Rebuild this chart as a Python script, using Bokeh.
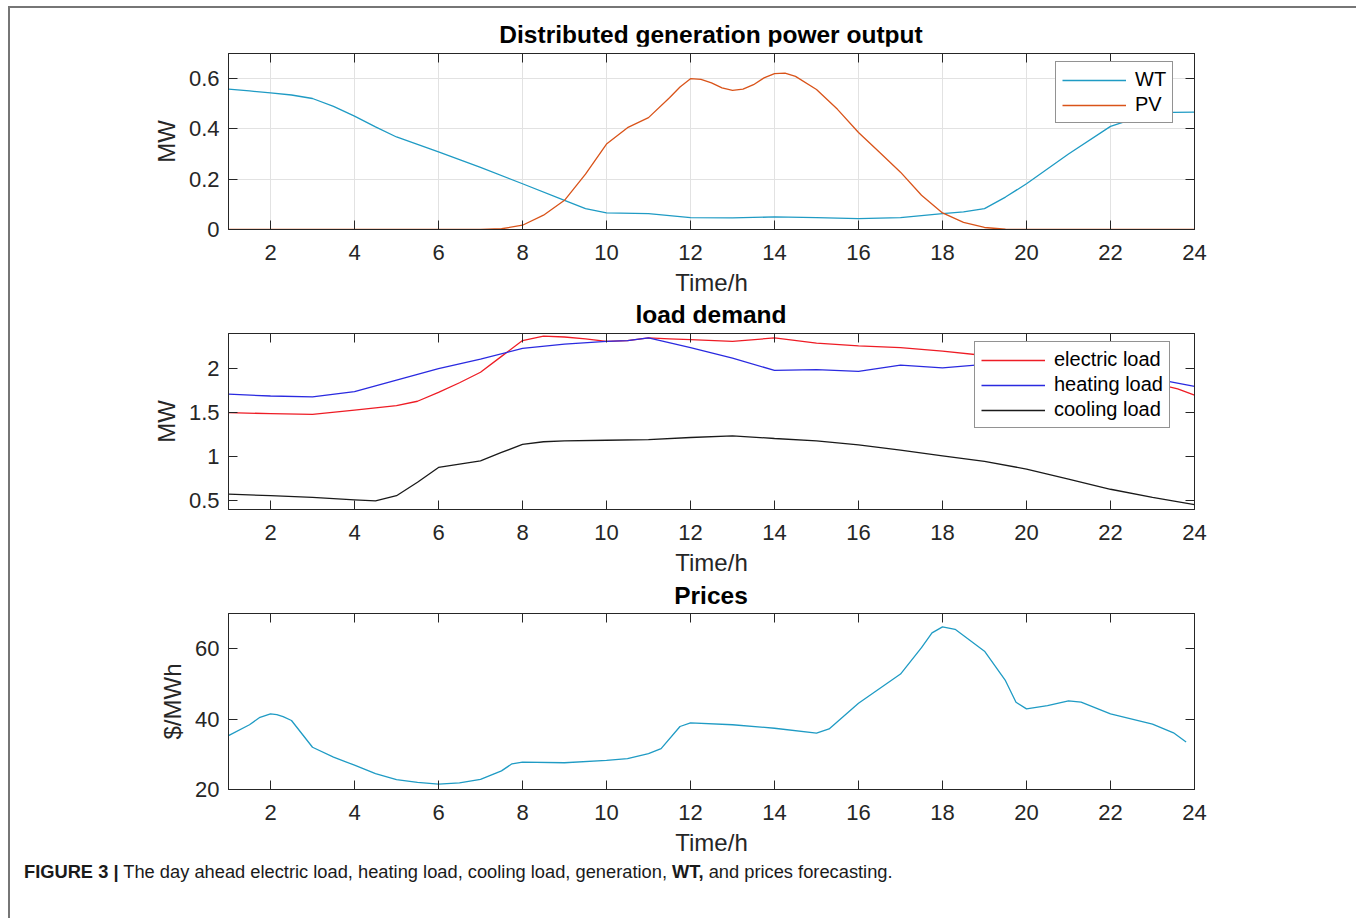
from bokeh.plotting import figure
from bokeh.models import LinearAxis, Legend, LegendItem, Div, FixedTicker, Range1d
from bokeh.layouts import column
from bokeh.embed import file_html
from bokeh.resources import INLINE

FONT = "Liberation Sans"
INK = "#262626"
CYAN = "#1f9bc4"
ORANGE = "#D95319"
FRAME_W, FRAME_H = 966, 176
PAGE_W = 1342

# ---- shared hour axis ----
x_ticks = [2, 4, 6, 8, 10, 12, 14, 16, 18, 20, 22, 24]
x_tick_labels = ["2", "4", "6", "8", "10", "12", "14", "16", "18", "20", "22", "24"]

# ---- distributed generation (MW) ----
wt_hours = [1, 1.5, 2, 2.5, 3, 3.5, 4, 4.5, 5, 5.5, 6, 7, 8, 9, 9.5, 10, 11, 12, 13, 14,
            15, 16, 17, 18, 18.5, 19, 19.5, 20, 21, 22, 23, 24]
wt_mw = [0.558, 0.551, 0.543, 0.535, 0.521, 0.490, 0.451, 0.408, 0.368, 0.339, 0.309,
         0.247, 0.182, 0.116, 0.083, 0.066, 0.063, 0.047, 0.046, 0.050, 0.047, 0.043,
         0.047, 0.063, 0.070, 0.083, 0.129, 0.182, 0.300, 0.410, 0.465, 0.467]

pv_hours = [1, 2, 3, 4, 5, 6, 7, 7.5, 8, 8.5, 9, 9.5, 10, 10.5, 11, 11.5, 11.75, 12,
            12.25, 12.5, 12.75, 13, 13.25, 13.5, 13.75, 14, 14.25, 14.5, 15, 15.5, 16,
            16.5, 17, 17.5, 18, 18.5, 19, 19.5, 20, 21, 22, 23, 24]
pv_mw = [0, 0, 0, 0, 0, 0, 0, 0.003, 0.017, 0.057, 0.116, 0.220, 0.340, 0.405, 0.445,
         0.524, 0.567, 0.600, 0.597, 0.583, 0.563, 0.553, 0.558, 0.576, 0.603, 0.620,
         0.622, 0.609, 0.557, 0.478, 0.386, 0.307, 0.228, 0.136, 0.066, 0.028, 0.008,
         0.001, 0, 0, 0, 0, 0]

gen_yticks = [0, 0.2, 0.4, 0.6]
gen_ytick_labels = ["0", "0.2", "0.4", "0.6"]

# ---- load demand (MW) ----
elec_hours = [1, 2, 3, 4, 5, 5.5, 6, 6.5, 7, 7.5, 8, 8.5, 9, 9.5, 10, 10.5, 11, 11.5,
              12, 13, 14, 15, 16, 17, 18, 19, 20, 21, 22, 23, 23.6, 24]
elec_mw = [1.50, 1.49, 1.48, 1.53, 1.58, 1.63, 1.73, 1.84, 1.96, 2.14, 2.32, 2.37, 2.36,
           2.34, 2.31, 2.32, 2.35, 2.34, 2.33, 2.31, 2.35, 2.29, 2.26, 2.24, 2.20, 2.15,
           2.08, 2.00, 1.93, 1.84, 1.77, 1.70]

heat_hours = [1, 2, 3, 4, 5, 6, 7, 8, 9, 10, 10.5, 11, 12, 13, 14, 15, 16, 17, 18, 19,
              20, 21, 22, 23, 24]
heat_mw = [1.71, 1.69, 1.68, 1.74, 1.87, 2.00, 2.11, 2.23, 2.28, 2.31, 2.32, 2.35, 2.24,
           2.12, 1.98, 1.99, 1.97, 2.04, 2.01, 2.05, 2.06, 2.02, 1.96, 1.89, 1.80]

cool_hours = [1, 2, 3, 4, 4.5, 5, 5.5, 6, 6.5, 7, 7.5, 8, 8.5, 9, 10, 11, 12, 13, 14, 15,
              16, 17, 18, 19, 20, 21, 22, 23, 24]
cool_mw = [0.575, 0.557, 0.538, 0.510, 0.497, 0.557, 0.710, 0.878, 0.916, 0.953, 1.048,
           1.140, 1.170, 1.180, 1.187, 1.195, 1.218, 1.237, 1.207, 1.180, 1.135, 1.075,
           1.010, 0.946, 0.860, 0.745, 0.630, 0.538, 0.455]

load_yticks = [0.5, 1, 1.5, 2]
load_ytick_labels = ["0.5", "1", "1.5", "2"]

# ---- prices ($/MWh) ----
price_hours = [1, 1.5, 1.75, 2, 2.15, 2.3, 2.5, 3, 3.5, 4, 4.5, 5, 5.5, 6, 6.5, 7, 7.5,
               7.75, 8, 9, 10, 10.5, 11, 11.3, 11.75, 12, 13, 14, 15, 15.3, 16, 17, 17.5,
               17.75, 18, 18.3, 19, 19.5, 19.75, 20, 20.5, 21, 21.3, 22, 23, 23.5, 23.8]
price = [35.3, 38.4, 40.5, 41.5, 41.3, 40.7, 39.6, 32.0, 29.2, 26.9, 24.5, 22.8, 22.0,
         21.5, 21.9, 22.9, 25.3, 27.3, 27.8, 27.6, 28.3, 28.8, 30.2, 31.6, 37.9, 38.9,
         38.4, 37.4, 36.0, 37.2, 44.5, 52.8, 60.3, 64.5, 66.2, 65.5, 59.3, 50.9, 44.8,
         42.9, 43.8, 45.2, 44.8, 41.5, 38.6, 36.1, 33.5]

price_yticks = [20, 40, 60]
price_ytick_labels = ["20", "40", "60"]


def heading(text, height, shift):
    # bold panel heading centred over the plot frame below it
    return Div(
        text=('<div style="font-family:\'Liberation Sans\',Arial,sans-serif;'
              'font-size:24.5px;font-weight:bold;line-height:24px;color:black;'
              'text-align:center;white-space:nowrap;width:%dpx;margin:%dpx 0 0 213px;">'
              '%s</div>') % (FRAME_W, shift, text),
        width=PAGE_W, height=height, styles={"overflow": "visible"})


def tick_axis(ax):
    ax.major_tick_in = 9
    ax.major_tick_out = 0
    ax.minor_tick_in = 0
    ax.minor_tick_out = 0
    ax.axis_line_color = INK
    ax.major_tick_line_color = INK


def panel(ylabel, ylim, yticks, ytick_labels, grid):
    p = figure(frame_width=FRAME_W, frame_height=FRAME_H, x_range=Range1d(1, 24),
               y_range=Range1d(*ylim),
               output_backend="svg", toolbar_location=None, tools="",
               min_border_left=218, min_border_right=158,
               min_border_top=7, min_border_bottom=71,
               background_fill_color="white", border_fill_color="white",
               outline_line_color=INK)

    xa = p.xaxis[0]
    xa.ticker = FixedTicker(ticks=x_ticks)
    xa.major_label_overrides = dict(zip(x_ticks, x_tick_labels))
    xa.axis_label = "Time/h"
    ya = p.yaxis[0]
    ya.ticker = FixedTicker(ticks=yticks)
    ya.major_label_overrides = dict(zip(yticks, ytick_labels))
    ya.axis_label = ylabel
    for ax in (xa, ya):
        tick_axis(ax)
        ax.major_label_text_font = FONT
        ax.major_label_text_font_size = "22px"
        ax.major_label_text_color = INK
        ax.axis_label_text_font = FONT
        ax.axis_label_text_font_size = "24px"
        ax.axis_label_text_font_style = "normal"
        ax.axis_label_text_color = INK
    xa.major_label_standoff = 15
    xa.axis_label_standoff = 6
    ya.major_label_standoff = 9
    ya.axis_label_standoff = 6

    # tick marks only, on the top and right edges of the frame
    top = LinearAxis(ticker=FixedTicker(ticks=x_ticks), major_label_text_font_size="1px",
                     major_label_text_color=None, major_label_standoff=0)
    right = LinearAxis(ticker=FixedTicker(ticks=yticks), major_label_text_font_size="1px",
                       major_label_text_color=None, major_label_standoff=0)
    tick_axis(top)
    tick_axis(right)
    p.add_layout(top, "above")
    p.add_layout(right, "right")

    if grid:
        p.xgrid.ticker = FixedTicker(ticks=x_ticks)
        p.ygrid.ticker = FixedTicker(ticks=yticks)
        p.grid.grid_line_color = "#e2e2e2"
        p.grid.grid_line_width = 1
    else:
        p.grid.visible = False
    return p


def legend(p, items, loc):
    lg = Legend(items=items, location=loc, label_text_font=FONT,
                label_text_font_size="20px", label_text_color="black",
                glyph_width=64, glyph_height=20, label_standoff=9, label_height=23,
                spacing=2, padding=6, margin=0, border_line_color=INK,
                border_line_width=1, background_fill_color="white",
                background_fill_alpha=1)
    p.add_layout(lg)


# Distributed generation
h1 = heading("Distributed generation power output", 28, 10)
p1 = panel("MW", (0, 0.7), gen_yticks, gen_ytick_labels, True)
r_wt = p1.line(wt_hours, wt_mw, line_color=CYAN, line_width=1.3)
r_pv = p1.line(pv_hours, pv_mw, line_color=ORANGE, line_width=1.3)
legend(p1, [LegendItem(label="WT", renderers=[r_wt]),
            LegendItem(label="PV", renderers=[r_pv])], (827, 106))

# Load demand
h2 = heading("load demand", 16, -2)
p2 = panel("MW", (0.4, 2.4), load_yticks, load_ytick_labels, False)
r_el = p2.line(elec_hours, elec_mw, line_color="#ee1c25", line_width=1.3)
r_ht = p2.line(heat_hours, heat_mw, line_color="#2a2ae0", line_width=1.3)
r_cl = p2.line(cool_hours, cool_mw, line_color="#1a1a1a", line_width=1.3)
legend(p2, [LegendItem(label="electric load", renderers=[r_el]),
            LegendItem(label="heating load", renderers=[r_ht]),
            LegendItem(label="cooling load", renderers=[r_cl])], (746, 81))

# Prices
h3 = heading("Prices", 16, -1)
p3 = panel("$/MWh", (20, 70), price_yticks, price_ytick_labels, False)
p3.line(price_hours, price, line_color=CYAN, line_width=1.3)

caption = Div(
    text=('<div style="font-family:\'Liberation Sans\',Arial,sans-serif;font-size:18.3px;'
          'color:#1a1a1a;margin:-6px 0 0 0;padding:0 0 0 9px;white-space:nowrap;">'
          '<b>FIGURE 3 |</b> The day ahead electric load, heating load, cooling load, '
          'generation, <b>WT,</b> and prices forecasting.</div>'),
    width=PAGE_W, height=50)

page = column(h1, p1, h2, p2, h3, p3, caption, spacing=0,
              styles={"margin-left": "8px", "margin-top": "6px",
                      "border-top": "2px solid #767676",
                      "border-left": "2px solid #767676",
                      "border-right": "2px solid #767676"})

open("out.html", "w").write(file_html(page, INLINE))
